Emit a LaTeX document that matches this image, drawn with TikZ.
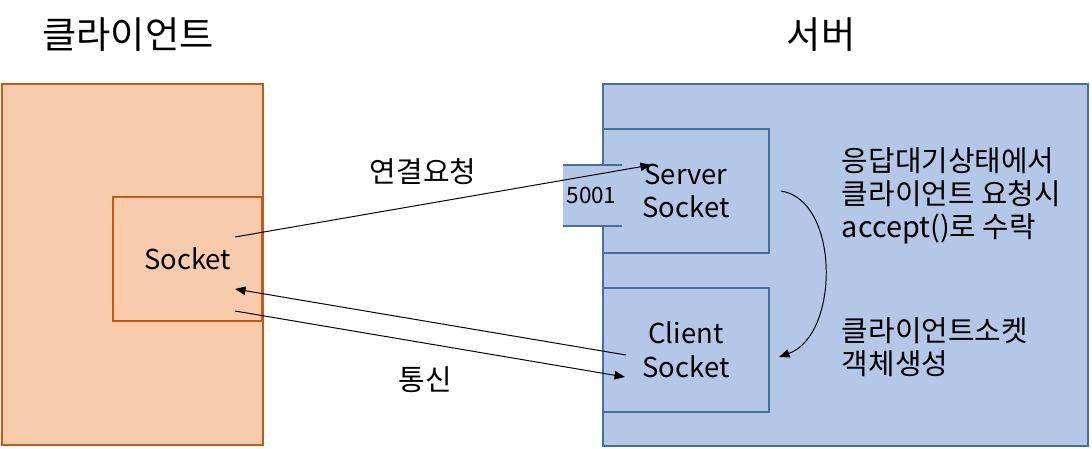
\documentclass[tikz,border=0pt]{standalone}
\usepackage{fontspec}
\setmainfont{Noto Sans CJK KR}
\usetikzlibrary{positioning,arrows.meta}
\definecolor{cfill}{HTML}{F8CBAD}
\definecolor{cline}{HTML}{C55A11}
\definecolor{sfill}{HTML}{B4C7E7}
\definecolor{sline}{HTML}{41719C}
\begin{document}
\begin{tikzpicture}[x=0.025cm, y=-0.025cm,
        cbox/.style={draw=cline, fill=cfill, line width=1.4pt, inner sep=0pt},
        sbox/.style={draw=sline, fill=sfill, line width=1.4pt, inner sep=0pt},
        txt/.style={font=\fontsize{19.5}{24}\selectfont, align=left},
        note/.style={font=\fontsize{20.5}{23.6}\selectfont, align=left},
        ttl/.style={font=\fontsize{26.5}{30}\selectfont},
        arr/.style={-{Triangle[length=7.5pt, width=6pt]}, line width=0.7pt}
        ]
        \useasboundingbox (0,0) rectangle (1092,448);
        % client side
        \node[cbox, minimum width=6.525cm, minimum height=9.025cm] (client) at (132.5,264.5) {};
        \node[cbox, txt, minimum width=3.725cm, minimum height=3.1cm] (csock) at (187.5,259) {Socket};
        \node[ttl] (ctitle) at (128,35) {클라이언트};
        % server side
        \node[sbox, minimum width=12.125cm, minimum height=9.025cm] (server) at (845.5,265) {};
        \node[sbox, txt, align=center, minimum width=4.15cm, minimum height=3.1cm] (ssock) at (686,191) {Server\\Socket};
        \node[sbox, txt, align=center, minimum width=4.15cm, minimum height=3.1cm] (clsock) at (686,350) {Client\\Socket};
        \node[ttl] (stitle) at (821,35) {서버};
        % port
        \node[fill=sfill, inner sep=0pt, minimum width=1.475cm, minimum height=1.525cm] (port) at (592.5,195.5) {};
        \draw[draw=sline, line width=1.4pt] (port.north west) -- (port.north east);
        \draw[draw=sline, line width=1.4pt] (port.south west) -- (port.south east);
        \node[font=\fontsize{16}{19}\selectfont] (pnum) at (591.5,195) {5001};
        % notes
        \node[note, anchor=west] (wait) at (837,196) {응답대기상태에서\\클라이언트 요청시\\accept()로 수락};
        \node[note, anchor=west] (make) at (837,347) {클라이언트소켓\\객체생성};
        \node[note] (reqlbl) at (423,172) {연결요청};
        \node[note] (comlbl) at (425,380) {통신};
        % connectors
        \coordinate (req-a) at (235,237);
        \coordinate (req-b) at (651,165);
        \coordinate (back-a) at (626,355);
        \coordinate (back-b) at (235,289);
        \coordinate (com-a) at (235,311);
        \coordinate (com-b) at (625,377);
        \coordinate (acc-a) at (781,191);
        \coordinate (acc-b) at (779,357);
        \draw[arr] (req-a) -- (req-b);
        \draw[arr] (back-a) -- (back-b);
        \draw[arr] (com-a) -- (com-b);
        \draw[arr] (acc-a) .. controls (840,200) and (840,335) .. (acc-b);
      \end{tikzpicture}
\end{document}
